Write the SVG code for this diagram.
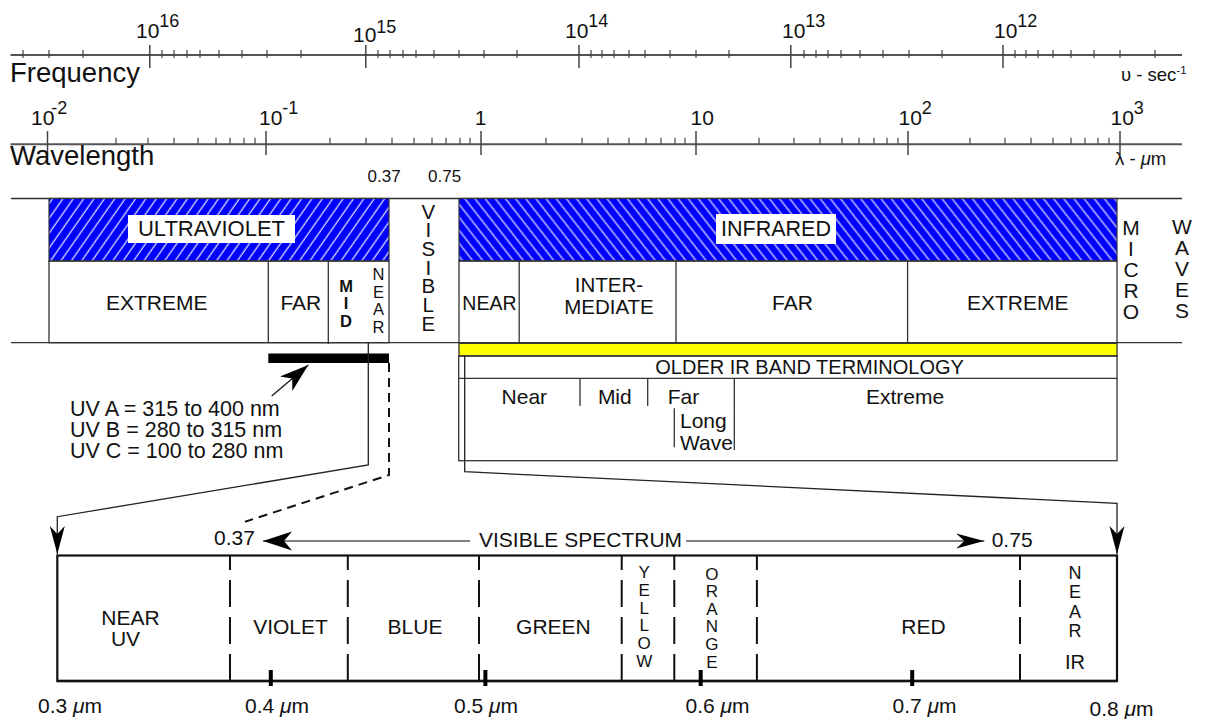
<svg xmlns="http://www.w3.org/2000/svg" width="1216" height="719" viewBox="0 0 1216 719">
<style>
text{font-family:"Liberation Sans",Arial,sans-serif;fill:#111}
.ax{stroke:#555;stroke-width:2;fill:none}
.tk{stroke:#444;stroke-width:1.2}
.mj{stroke:#444;stroke-width:1.5}
.ln{stroke:#333;stroke-width:1.3;fill:none}
.bx{stroke:#111;stroke-width:2.2;fill:none}
.dv{stroke:#111;stroke-width:2;stroke-dasharray:27 10}
.bt{stroke:#000;stroke-width:4}
.f20{font-size:20px}
.f21{font-size:21px}
.f22{font-size:22px}
.lb{font-size:21px}
.m{text-anchor:middle}
</style>
<defs>
<pattern id="hu" width="8.5" height="8.5" patternUnits="userSpaceOnUse" patternTransform="rotate(35)">
<rect width="8.5" height="8.5" fill="#0000ff"/><line x1="4" y1="0" x2="4" y2="8.5" stroke="#fff" stroke-width="1.1"/>
</pattern>
<pattern id="hi" width="8" height="8" patternUnits="userSpaceOnUse" patternTransform="rotate(-38)">
<rect width="8" height="8" fill="#0000ff"/><line x1="4" y1="0" x2="4" y2="8" stroke="#fff" stroke-width="1.1"/>
</pattern>
<marker id="ah" markerUnits="userSpaceOnUse" viewBox="-30 -10 30 20" markerWidth="30" markerHeight="20" refX="0" refY="0" orient="auto">
<path d="M0,0 L-29,-9.5 L-21,0 L-29,9.5 Z" fill="#000"/>
</marker>
<marker id="ahn" markerUnits="userSpaceOnUse" viewBox="-30 -10 30 20" markerWidth="30" markerHeight="20" refX="0" refY="0" orient="auto">
<path d="M0,0 L-28,-7.5 L-20,0 L-28,7.5 Z" fill="#000"/>
</marker>
</defs>

<g id="frequency-axis">
<line class="ax" x1="10.5" y1="55" x2="1182" y2="55"/>
<g class="mj">
<line x1="149.8" y1="45" x2="149.8" y2="68"/><line x1="365.8" y1="45" x2="365.8" y2="68"/><line x1="579" y1="45" x2="579" y2="68"/><line x1="790.8" y1="45" x2="790.8" y2="68"/><line x1="1003" y1="45" x2="1003" y2="68"/>
</g>
<path class="tk" d="M23,50V58M49,50V58M83,50V58M162,50V58M174,50V58M187,50V58M200,50V58M219,50V58M242,50V58M267,50V58M301,50V58M378,50V58M390,50V58M403,50V58M416,50V58M434,50V58M459,50V58M484,50V58M517,50V58M591,50V58M602,50V58M614,50V58M629,50V58M645,50V58M670,50V58M696,50V58M729,50V58M804,50V58M816,50V58M828,50V58M841,50V58M860,50V58M883,50V58M909,50V58M942,50V58M1015,50V58M1026,50V58M1038,50V58M1053,50V58M1071,50V58M1094,50V58M1120,50V58M1155,50V58"/>
<text class="lb" x="136" y="38">10<tspan dy="-11" font-size="18">16</tspan></text>
<text class="lb" x="353" y="42">10<tspan dy="-9" font-size="18">15</tspan></text>
<text class="lb" x="565" y="38">10<tspan dy="-11" font-size="18">14</tspan></text>
<text class="lb" x="782" y="38">10<tspan dy="-11" font-size="18">13</tspan></text>
<text class="lb" x="994" y="38">10<tspan dy="-11" font-size="18">12</tspan></text>
<text x="10" y="82" font-size="27.5">Frequency</text>
<text x="1121" y="81" font-size="18.5">υ - sec<tspan dy="-7" font-size="11.5">-1</tspan></text>
</g>

<g id="wavelength-axis">
<line class="ax" x1="10.5" y1="144.3" x2="1182" y2="144.3"/>
<g class="mj">
<line x1="47.5" y1="131" x2="47.5" y2="155"/><line x1="266" y1="131" x2="266" y2="155"/><line x1="481" y1="131" x2="481" y2="155"/><line x1="696" y1="131" x2="696" y2="155"/><line x1="908" y1="131" x2="908" y2="155"/><line x1="1120" y1="131" x2="1120" y2="155"/>
</g>
<path class="tk" d="M116,137.7V144M148,137.7V144M174,137.7V144M198,137.7V144M216,137.7V144M230,137.7V144M244,137.7V144M255,137.7V144M330,137.7V144M366,137.7V144M392,137.7V144M414,137.7V144M432,137.7V144M446,137.7V144M460,137.7V144M470,137.7V144M546,137.7V144M582,137.7V144M608,137.7V144M629,137.7V144M646,137.7V144M661,137.7V144M675,137.7V144M685,137.7V144M759,137.7V144M794,137.7V144M820,137.7V144M842,137.7V144M859,137.7V144M874,137.7V144M887,137.7V144M898,137.7V144M970,137.7V144M1005,137.7V144M1031,137.7V144M1053,137.7V144M1071,137.7V144M1085,137.7V144M1098,137.7V144M1109,137.7V144"/>
<text class="lb" x="31" y="125">10<tspan dx="-3" dy="-11" font-size="18">-2</tspan></text>
<text class="lb" x="259" y="125">10<tspan dy="-11" font-size="18">-1</tspan></text>
<text class="lb m" x="480.5" y="125">1</text>
<text class="lb" x="690.5" y="125">10</text>
<text class="lb" x="898.5" y="125">10<tspan dy="-11" font-size="18">2</tspan></text>
<text class="lb" x="1110.5" y="125">10<tspan dy="-11" font-size="18">3</tspan></text>
<text x="10" y="165" font-size="27.5">Wavelength</text>
<text x="1115" y="165" font-size="18.5">λ - <tspan font-style="italic">μ</tspan>m</text>
<text x="367.5" y="182.3" font-size="17">0.37</text>
<text x="428" y="182.3" font-size="17">0.75</text>
</g>

<g id="band-frame">
<line class="ln" x1="11" y1="198.5" x2="1182" y2="198.5"/>
<line class="ln" x1="11" y1="342.7" x2="1182" y2="342.7"/>
</g>

<g id="ultraviolet">
<rect x="49" y="198.5" width="340" height="62.5" fill="url(#hu)" stroke="#333" stroke-width="1.2"/>
<rect x="128" y="215" width="167" height="28" fill="#fff"/>
<text class="f22 m" x="211.5" y="236">ULTRAVIOLET</text>
<rect class="ln" x="49" y="261" width="340" height="81.7"/>
<path class="ln" d="M268.3,261V342.7M328.3,261V344"/>
<text class="f21 m" x="156.7" y="309.5">EXTREME</text>
<text class="f21 m" x="300.8" y="309.5">FAR</text>
<text class="m" x="346" font-size="16.5" font-weight="bold"><tspan x="346" y="291.7">M</tspan><tspan x="346" y="309.2">I</tspan><tspan x="346" y="326.7">D</tspan></text>
<text class="m" font-size="16.5"><tspan x="378.5" y="280">N</tspan><tspan x="378.5" y="297.7">E</tspan><tspan x="378.5" y="315.4">A</tspan><tspan x="378.5" y="333">R</tspan></text>
</g>

<g id="visible">
<text class="m" font-size="20.5"><tspan x="428.3" y="218.5">V</tspan><tspan x="428.3" y="237.2">I</tspan><tspan x="428.3" y="255.9">S</tspan><tspan x="428.3" y="274.6">I</tspan><tspan x="428.3" y="293.3">B</tspan><tspan x="428.3" y="312">L</tspan><tspan x="428.3" y="330.7">E</tspan></text>
</g>

<g id="infrared">
<rect x="459" y="198.5" width="658" height="62.5" fill="url(#hi)" stroke="#333" stroke-width="1.2"/>
<rect x="716" y="214" width="120" height="30" fill="#fff"/>
<text class="m" x="776" y="236" font-size="21.5">INFRARED</text>
<rect class="ln" x="459" y="261" width="658" height="81.7"/>
<path class="ln" d="M519.2,261V342.7M676,261V342.7M907.6,261V342.7"/>
<text class="m" x="489.4" y="309.5" font-size="19.5">NEAR</text>
<text class="m" x="609" y="291.7" font-size="20.5">INTER-</text>
<text class="m" x="609" y="314" font-size="20.5">MEDIATE</text>
<text class="f21 m" x="792.5" y="309.5">FAR</text>
<text class="f21 m" x="1017.7" y="309.5">EXTREME</text>
</g>

<g id="microwaves">
<text class="f21 m"><tspan x="1131" y="235">M</tspan><tspan x="1131" y="256">I</tspan><tspan x="1131" y="277">C</tspan><tspan x="1131" y="298">R</tspan><tspan x="1131" y="319">O</tspan></text>
<text class="f21 m"><tspan x="1182" y="234">W</tspan><tspan x="1182" y="255">A</tspan><tspan x="1182" y="276">V</tspan><tspan x="1182" y="297">E</tspan><tspan x="1182" y="318">S</tspan></text>
</g>

<g id="older-ir">
<rect x="459" y="343.3" width="658" height="12.7" fill="#ffff00" stroke="#333" stroke-width="1.3"/>
<rect class="ln" x="458.7" y="356" width="658.3" height="104.7"/>
<line class="ln" x1="458.7" y1="378.3" x2="1117" y2="378.3"/>
<text class="m" x="809.6" y="374.3" font-size="20">OLDER IR BAND TERMINOLOGY</text>
<path class="ln" d="M580,378.3V406M647.7,378.3V406M734.3,378.3V450M674.3,408.3V447.3"/>
<text class="f21 m" x="524.3" y="404">Near</text>
<text class="f21 m" x="614.8" y="404">Mid</text>
<text class="f21 m" x="683.5" y="404">Far</text>
<text class="f21 m" x="905" y="404">Extreme</text>
<text class="f21" x="680" y="428.3">Long</text>
<text class="f21" x="680" y="450">Wave</text>
</g>

<g id="uv-bands-note">
<rect x="268.3" y="353.5" width="120.7" height="9.5" fill="#000"/>
<text font-size="21.5"><tspan x="70" y="416">UV A = 315 to 400 nm</tspan><tspan x="70" y="437.3">UV B = 280 to 315 nm</tspan><tspan x="70" y="458.3">UV C = 100 to 280 nm</tspan></text>
</g>

<g id="connectors">
<line x1="271.7" y1="396" x2="308.3" y2="365" stroke="#111" stroke-width="1.2" marker-end="url(#ah)"/>
<path d="M368.3,342.7V465L57.3,516.7V554" fill="none" stroke="#222" stroke-width="1.3" marker-end="url(#ahn)"/>
<path d="M389,363V475L245,521.7" fill="none" stroke="#111" stroke-width="2" stroke-dasharray="9 6"/>
<path d="M464.7,356V471.7L1117,503.3V554" fill="none" stroke="#222" stroke-width="1.3" marker-end="url(#ahn)"/>
<line x1="470" y1="541" x2="263" y2="541" stroke="#555" stroke-width="1.5" marker-end="url(#ah)"/>
<line x1="686" y1="541" x2="984.3" y2="541" stroke="#555" stroke-width="1.5" marker-end="url(#ahn)"/>
</g>

<g id="visible-spectrum-title">
<text class="f21" x="214" y="545">0.37</text>
<text x="479" y="546.7" font-size="21">VISIBLE SPECTRUM</text>
<text class="f21" x="991.7" y="546.7">0.75</text>
</g>

<g id="visible-spectrum">
<rect class="bx" x="57.3" y="555.5" width="1059.7" height="125.5"/>
<line x1="57.3" y1="681" x2="1117" y2="681" stroke="#111" stroke-width="2.6"/>
<g class="dv">
<line x1="230" y1="681" x2="230" y2="556"/><line x1="347.8" y1="681" x2="347.8" y2="556"/><line x1="479" y1="681" x2="479" y2="556"/><line x1="621.7" y1="681" x2="621.7" y2="556"/><line x1="674.3" y1="681" x2="674.3" y2="556"/><line x1="756.9" y1="681" x2="756.9" y2="556"/><line x1="1020" y1="681" x2="1020" y2="556"/>
</g>
<g class="bt">
<line x1="270.8" y1="670" x2="270.8" y2="686"/><line x1="485.4" y1="670" x2="485.4" y2="686"/><line x1="700.7" y1="670" x2="700.7" y2="686"/><line x1="912.2" y1="670" x2="912.2" y2="686"/>
</g>
<text class="f21 m" x="130.5" y="625">NEAR</text>
<text class="f21 m" x="125.5" y="646">UV</text>
<text class="f21 m" x="290.5" y="634.3">VIOLET</text>
<text class="f21 m" x="415" y="634.3">BLUE</text>
<text class="f21 m" x="553.4" y="634.3">GREEN</text>
<text class="m" font-size="17"><tspan x="644.2" y="578.3">Y</tspan><tspan x="644.2" y="596">E</tspan><tspan x="644.2" y="613.7">L</tspan><tspan x="644.2" y="631.4">L</tspan><tspan x="644.2" y="649.1">O</tspan><tspan x="644.2" y="666.8">W</tspan></text>
<text class="m" font-size="17"><tspan x="711.8" y="579.5">O</tspan><tspan x="711.8" y="597.1">R</tspan><tspan x="711.8" y="614.7">A</tspan><tspan x="711.8" y="632.3">N</tspan><tspan x="711.8" y="649.9">G</tspan><tspan x="711.8" y="667.5">E</tspan></text>
<text class="f21 m" x="923.4" y="634.3">RED</text>
<text class="m" font-size="18"><tspan x="1075" y="579.3">N</tspan><tspan x="1075" y="598.4">E</tspan><tspan x="1075" y="617.5">A</tspan><tspan x="1075" y="636.7">R</tspan></text>
<text class="f20 m" x="1075" y="669.3">IR</text>
<text class="f21" x="38" y="713.3">0.3 <tspan font-style="italic">μ</tspan>m</text>
<text class="f21" x="245" y="713.3">0.4 <tspan font-style="italic">μ</tspan>m</text>
<text class="f21" x="454" y="713.3">0.5 <tspan font-style="italic">μ</tspan>m</text>
<text class="f21" x="685.5" y="713.3">0.6 <tspan font-style="italic">μ</tspan>m</text>
<text class="f21" x="892.5" y="713.3">0.7 <tspan font-style="italic">μ</tspan>m</text>
<text class="f21" x="1089.5" y="716">0.8 <tspan font-style="italic">μ</tspan>m</text>
</g>
</svg>
